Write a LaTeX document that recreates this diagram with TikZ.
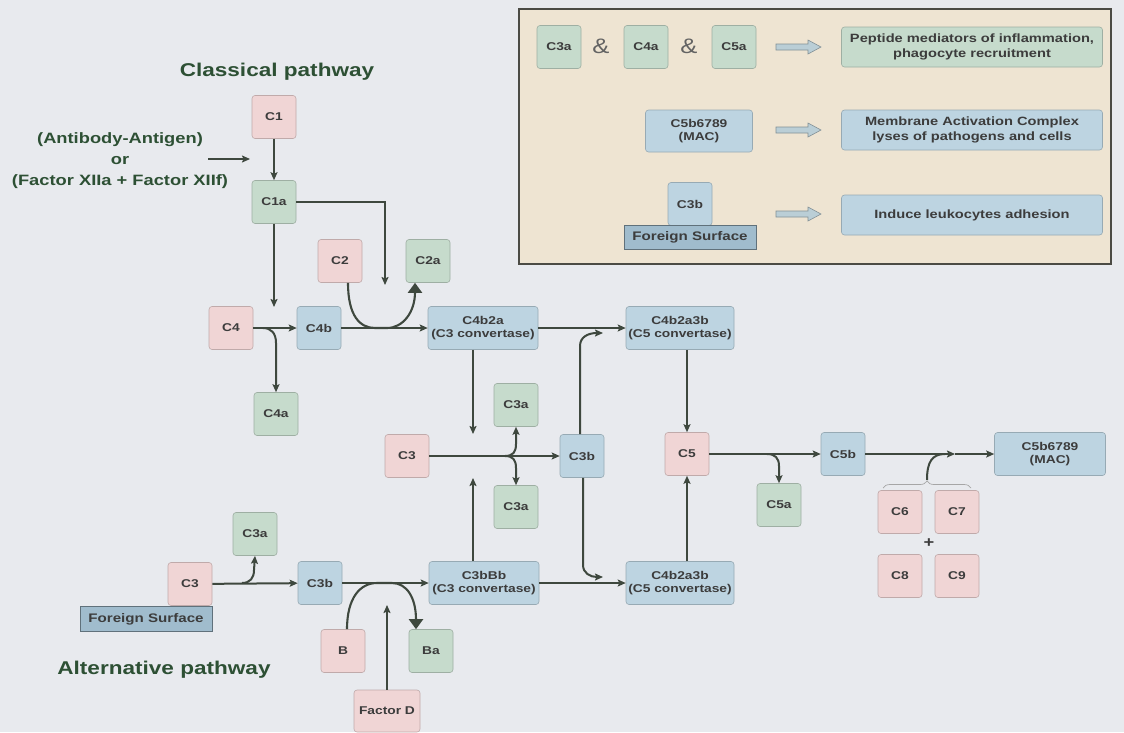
\documentclass[tikz,border=0pt]{standalone}
\usepackage{fontspec}
\setmainfont{Liberation Sans}[FakeStretch=1.22]
\usetikzlibrary{arrows.meta,decorations.pathreplacing}
\definecolor{bg}{RGB}{232,234,238}
\definecolor{pinkf}{RGB}{240,213,213}
\definecolor{greenf}{RGB}{198,219,204}
\definecolor{bluef}{RGB}{189,212,225}
\definecolor{legf}{RGB}{238,228,210}
\definecolor{legb}{RGB}{75,75,68}
\definecolor{fsurf}{RGB}{160,188,205}
\definecolor{linec}{RGB}{62,72,62}
\definecolor{txt}{RGB}{60,60,60}
\definecolor{title}{RGB}{45,80,52}
\definecolor{harrow}{RGB}{186,206,214}
\newcommand\legarrow[1]{\draw[draw=harrow!70!black,fill=harrow,line width=0.6pt] (776,#1-3) -- (808,#1-3) -- (808,#1-7) -- (821,#1) -- (808,#1+7) -- (808,#1+3) -- (776,#1+3) -- cycle;}
\begin{document}
\begin{tikzpicture}[x=1pt,y=-1pt,
  box/.style={rounded corners=3pt, line width=0.6pt, minimum width=44pt, minimum height=43pt, inner sep=1pt, align=center, text=txt, font=\fontsize{11.3}{13}\selectfont\bfseries},
  pinkbox/.style={box, fill=pinkf, draw=pinkf!80!black},
  greenbox/.style={box, fill=greenf, draw=greenf!80!black},
  bluebox/.style={box, fill=bluef, draw=bluef!80!black},
  wide/.style={minimum width=110pt},
  legtxt/.style={font=\fontsize{12}{15.5}\selectfont\bfseries},
  fsbox/.style={draw=fsurf!60!black, fill=fsurf, line width=0.8pt, minimum width=132pt, minimum height=25pt, inner sep=0pt, text=txt, font=\fontsize{12.4}{14}\selectfont\bfseries},
  arr/.style={draw=linec, line width=2pt, -{Stealth[length=8pt,width=7pt,inset=1.5pt]}},
  bigarr/.style={draw=linec, line width=2.1pt, -{Triangle[length=10pt,width=14pt]}},
  ttl/.style={text=title, font=\fontsize{18.5}{22}\selectfont\bfseries}
]
\fill[bg] (0,0) rectangle (1124,732);
\useasboundingbox (0,0) rectangle (1124,732);

% legend
\draw[legb, fill=legf, line width=2.2pt] (519,9) rectangle (1111,264);
\node[greenbox] (LC3a) at (559,47) {C3a};
\node[text=txt!80, font=\fontsize{21}{21}\selectfont] (amp1) at (601,46) {\&};
\node[greenbox] (LC4a) at (646,47) {C4a};
\node[text=txt!80, font=\fontsize{21}{21}\selectfont] (amp2) at (689,46) {\&};
\node[greenbox] (LC5a) at (734,47) {C5a};
\legarrow{47}
\node[greenbox, minimum width=261pt, minimum height=40pt, legtxt] (Lpep) at (972,47) {Peptide mediators of inflammation,\\phagocyte recruitment};
\node[bluebox, minimum width=107pt, minimum height=42pt] (LMAC) at (699,131) {C5b6789\\(MAC)};
\legarrow{130}
\node[bluebox, minimum width=261pt, minimum height=40pt, legtxt] (Lmem) at (972,130) {Membrane Activation Complex\\lyses of pathogens and cells};
\node[bluebox] (LC3b) at (690,204) {C3b};
\node[fsbox, minimum height=24pt] (LFS) at (690,237) {Foreign Surface};
\legarrow{214}
\node[bluebox, minimum width=261pt, minimum height=40pt, legtxt] (Lind) at (972,215) {Induce leukocytes adhesion};

% titles
\node[ttl] (tclass) at (277,72) {Classical pathway};
\node[ttl] (talt) at (164,670) {Alternative pathway};
\node[text=title, align=center, font=\fontsize{15}{21}\selectfont\bfseries] (inp) at (120,161) {(Antibody-Antigen)\\or\\(Factor XIIa + Factor XIIf)};
\coordinate (inpS) at (208,159);
\coordinate (inpE) at (250,159);
\draw[arr, line width=1.5pt] (inpS) -- (inpE);

% classical nodes
\node[pinkbox] (C1) at (274,117) {C1};
\node[greenbox] (C1a) at (274,202) {C1a};
\node[pinkbox] (C2) at (340,261) {C2};
\node[greenbox] (C2a) at (428,261) {C2a};
\node[pinkbox] (C4) at (231,328) {C4};
\node[bluebox] (C4b) at (319,328) {C4b};
\node[greenbox] (C4a) at (276,414) {C4a};
\node[bluebox, wide] (C4b2a) at (483,328) {C4b2a\\(C3 convertase)};
\node[bluebox, wide, minimum width=108pt] (C5cU) at (680,328) {C4b2a3b\\(C5 convertase)};
\node[greenbox] (C3aU) at (516,405) {C3a};
\node[pinkbox] (C3) at (407,456) {C3};
\node[bluebox] (C3b) at (582,456) {C3b};
\node[greenbox] (C3aL) at (516,507) {C3a};
\node[pinkbox] (C5) at (687,454) {C5};
\node[bluebox] (C5b) at (843,454) {C5b};
\node[greenbox] (C5a) at (779,505) {C5a};
\node[bluebox, minimum width=111pt] (MAC) at (1050,454) {C5b6789\\(MAC)};
\node[pinkbox] (C6) at (900,512) {C6};
\node[pinkbox] (C7) at (957,512) {C7};
\node[pinkbox] (C8) at (900,576) {C8};
\node[pinkbox] (C9) at (957,576) {C9};
\node[text=txt, font=\fontsize{15}{15}\selectfont\bfseries] (plus) at (929,543) {+};

% alternative nodes
\node[bluebox, wide] (C3bBb) at (484,583) {C3bBb\\(C3 convertase)};
\node[bluebox, wide, minimum width=108pt] (C5cL) at (680,583) {C4b2a3b\\(C5 convertase)};
\node[pinkbox] (C3A) at (190,584) {C3};
\node[fsbox] (FS) at (146,619) {Foreign Surface};
\node[greenbox] (C3aA) at (255,534) {C3a};
\node[bluebox] (C3bA) at (320,583) {C3b};
\node[pinkbox] (B) at (343,651) {B};
\node[greenbox] (Ba) at (431,651) {Ba};
\node[pinkbox, minimum width=66pt, minimum height=42pt] (FD) at (387,711) {Factor D};

% classical connectors
\draw[arr] (C1) -- (C1a);
\coordinate (k1) at (274,307);
\draw[arr] (C1a.south) -- (k1);
\coordinate (k2) at (385,285);
\draw[arr] (C1a.east) -| (k2);
\draw[bigarr] ([xshift=8pt]C2.south) .. controls (348,316) and (360,328) .. (375,328) -- (387,328) .. controls (403,328) and (415,312) .. ([xshift=-13pt]C2a.south);
\draw[arr] (C4) -- (C4b);
\coordinate (b1) at (263,328);
\draw[arr] (b1) .. controls (271,328) and (276,333) .. (276,343) -- (C4a.north);
\draw[arr] (C4b) -- (C4b2a);
\draw[arr] (C4b2a) -- (C5cU);
\coordinate (k3) at (473,434);
\draw[arr] ([xshift=-10pt]C4b2a.south) -- (k3);
\coordinate (k4) at (473,478);
\draw[arr] ([xshift=-11pt]C3bBb.north) -- (k4);
\draw[arr] (C3) -- (C3b);
\coordinate (b2) at (505,456);
\draw[arr] (b2) .. controls (513,456) and (516,452) .. (516,444) -- (C3aU.south);
\draw[arr] (b2) .. controls (513,456) and (516,460) .. (516,468) -- (C3aL.north);
\coordinate (k5) at (603,333);
\draw[arr] ([xshift=-2pt]C3b.north) -- (580,346) .. controls (580,337) and (588,333) .. (k5);
\coordinate (k6) at (603,577);
\draw[arr] ([xshift=1pt]C3b.south) -- (583,565) .. controls (583,573) and (590,577) .. (k6);
\draw[arr] (C3bBb) -- (C5cL);
\draw[arr] (C5cU.south -| C5.north) -- (C5.north);
\draw[arr] (C5cL.north -| C5.south) -- (C5.south);
\draw[arr] (C5) -- (C5b);
\coordinate (b3) at (767,454);
\draw[arr] (b3) .. controls (775,454) and (779,458) .. (779,466) -- (C5a.north);
\coordinate (k7) at (955,454);
\draw[arr] (C5b) -- (k7);
\draw[arr] (k7) -- (MAC);
\draw[gray!70, line width=0.7pt, decorate, decoration={brace, amplitude=7pt}] (883,488) -- (971,488);
\coordinate (br) at (927,480);
\coordinate (br2) at (945,454);
\draw[linec, line width=2pt] (br) .. controls (927,462) and (932,454) .. (br2);

% alternative connectors
\draw[arr] (C3A) -- (C3bA);
\coordinate (b4) at (242,583);
\draw[arr] (b4) .. controls (250,583) and (254,578) .. (254,570) -- (C3aA.south);
\draw[arr] (C3bA) -- (C3bBb);
\draw[bigarr] ([xshift=4pt]B.north) .. controls (347,598) and (360,583) .. (377,583) -- (392,583) .. controls (407,583) and (416,598) .. ([xshift=-15pt]Ba.north);
\coordinate (k8) at (387,605);
\draw[arr] (FD.north) -- (k8);
\end{tikzpicture}
\end{document}
